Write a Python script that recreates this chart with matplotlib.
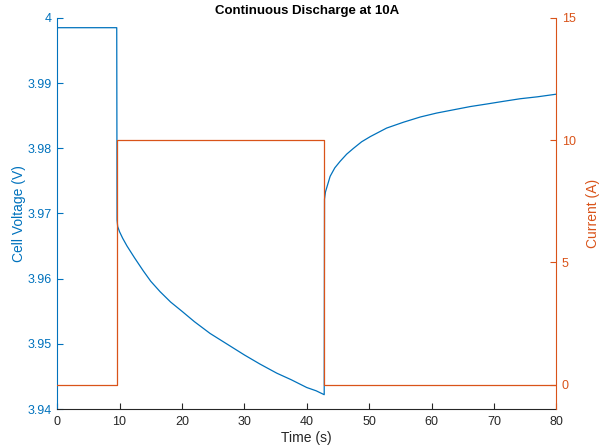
import matplotlib.pyplot as plt

plt.rcParams['font.family'] = ['Liberation Sans', 'DejaVu Sans']

# voltage trace (time in s, volts)
time_v = [0, 9.55, 9.6, 9.7, 10.0, 10.5, 11.2, 12.4, 13.8, 15.0, 16.5, 18.2, 20,
          22.0, 24.5, 27.0, 30, 32.5, 35.2, 37.5, 40, 41.5, 42.8,
          42.85, 43.0, 43.75, 44.5, 45.35, 46.4, 47.5, 48.8, 50.2, 52.8, 55.5,
          58.2, 60.8, 63.5, 66.2, 68.9, 71.5, 74.2, 77.0, 80]
voltage = [3.9985, 3.9985, 3.9690, 3.9680, 3.9672, 3.9662, 3.9650, 3.9632, 3.9612,
           3.9596, 3.9580, 3.9564, 3.9550, 3.9534, 3.9516, 3.9501, 3.9483,
           3.9469, 3.9455, 3.9445, 3.9433, 3.9428, 3.9422,
           3.9722, 3.9733, 3.9757, 3.9770, 3.9780, 3.9791, 3.9800, 3.9810,
           3.9818, 3.9831, 3.9840, 3.9848, 3.9854, 3.9859, 3.9864, 3.9868,
           3.9872, 3.9876, 3.9879, 3.9883]

# current steps
time_i = [0, 9.6, 42.8, 80]
current = [0, 10, 0, 0]

blue = '#0072BD'
orange = '#D95319'
dark = '#262626'

fig = plt.figure(figsize=(6.08, 4.48), dpi=100)
ax = fig.add_axes([0.094, 0.087, 0.821, 0.873])
ax2 = ax.twinx()

ax.plot(time_v, voltage, color=blue, linewidth=0.9)
ax2.step(time_i, current, where='post', color=orange, linewidth=0.9)

ax.set_xlim(0, 80)
ax.set_ylim(3.94, 4.0)
ax2.set_ylim(-1, 15)
ax.set_xticks(range(0, 81, 10))
ax.set_yticks([3.94, 3.95, 3.96, 3.97, 3.98, 3.99, 4.0])
ax.set_yticklabels(['3.94', '3.95', '3.96', '3.97', '3.98', '3.99', '4'])
ax2.set_yticks([0, 5, 10, 15])

for a in (ax, ax2):
    a.spines['top'].set_visible(False)
ax.spines['right'].set_visible(False)
ax2.spines['left'].set_visible(False)
ax2.spines['bottom'].set_visible(False)
ax.spines['left'].set_color(blue)
ax2.spines['right'].set_color(orange)
ax.spines['bottom'].set_color(dark)
for s in ('left', 'bottom'):
    ax.spines[s].set_linewidth(0.8)
ax2.spines['right'].set_linewidth(0.8)

ax.tick_params(axis='x', direction='in', length=4, colors=dark, labelsize=9, pad=5)
ax.tick_params(axis='y', direction='in', length=4, colors=blue, labelsize=9, pad=4)
ax2.tick_params(axis='y', direction='in', length=4, colors=orange, labelsize=9, pad=4)

ax.set_xlabel('Time (s)', fontsize=10, color=dark, labelpad=2)
ax.set_ylabel('Cell Voltage (V)', fontsize=10, color=blue, labelpad=1)
ax2.set_ylabel('Current (A)', fontsize=10, color=orange, labelpad=7)
ax.set_title('Continuous Discharge at 10A', fontsize=9.5, fontweight='bold', pad=3)

fig.savefig('out.png', dpi=100)
